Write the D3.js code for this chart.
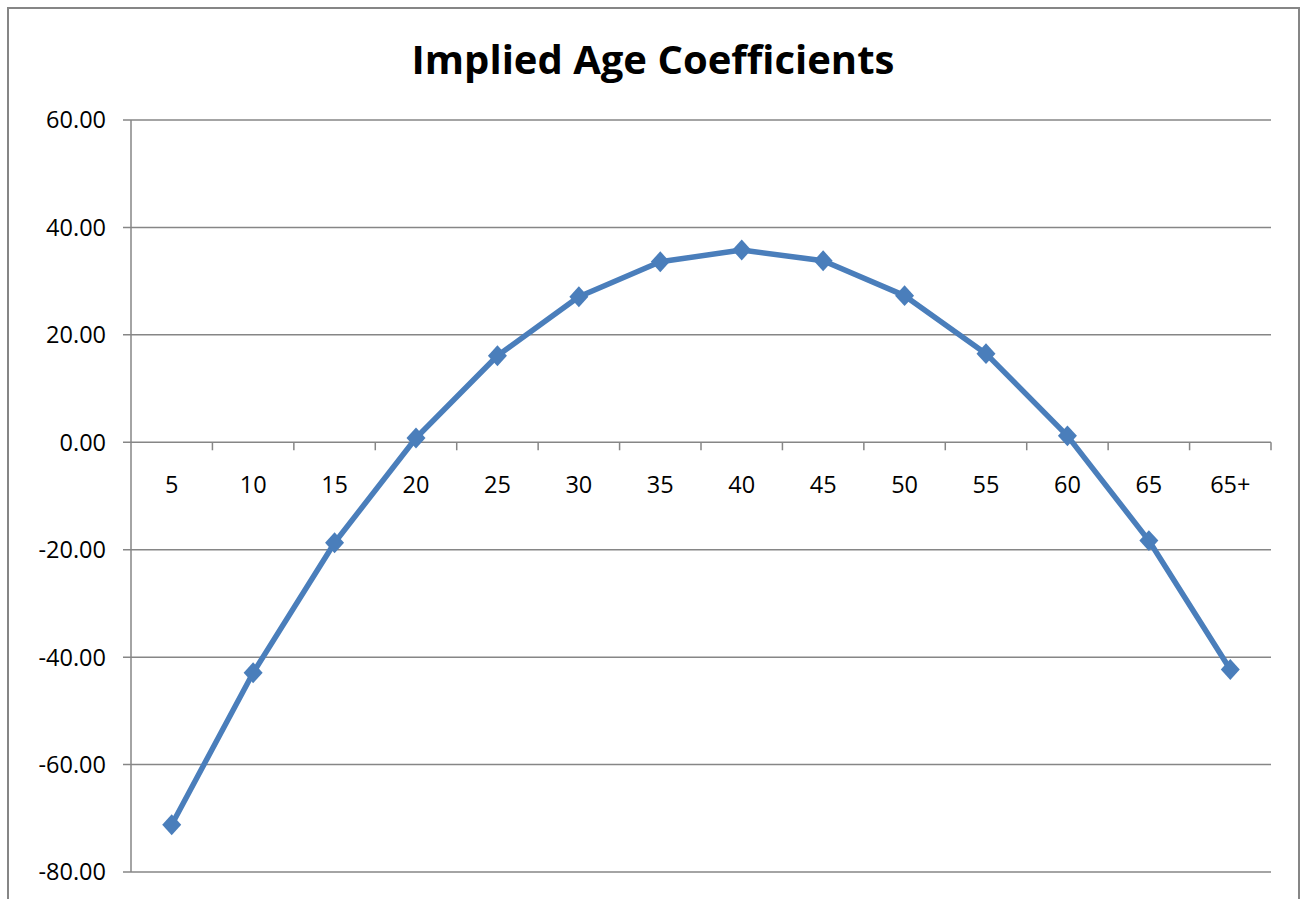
<!DOCTYPE html>
<html><head><meta charset="utf-8">
<script src="https://cdn.jsdelivr.net/npm/d3@7"></script>
<style>
html,body{margin:0;padding:0;background:#fff;}
svg{display:block;}
</style></head>
<body>
<script>
const title = "Implied Age Coefficients";
const categories = ["5","10","15","20","25","30","35","40","45","50","55","60","65","65+"];
const values = [-71.2,-42.9,-18.7,0.8,16.1,27.1,33.6,35.8,33.8,27.3,16.5,1.2,-18.3,-42.3];
const yTicks = [60,40,20,0,-20,-40,-60,-80];

const W = 1302, H = 899;
const margin = {left:131, right:31, top:120, bottom:27};
const svg = d3.select("body").append("svg").attr("width",W).attr("height",H);
const font = "'Open Sans', sans-serif";

// outer border
svg.append("rect").attr("x",8).attr("y",8).attr("width",1291).attr("height",H+20)
  .attr("fill","none").attr("stroke","#868686").attr("stroke-width",2);

const x = d3.scaleBand().domain(categories).range([margin.left, W-margin.right]).padding(0);
const y = d3.scaleLinear().domain([-80,60]).range([H-margin.bottom, margin.top]);

// gridlines
svg.append("g").selectAll("line").data(yTicks).join("line")
  .attr("x1",margin.left-8).attr("x2",W-margin.right)
  .attr("y1",d=>y(d)).attr("y2",d=>y(d))
  .attr("stroke","#868686").attr("stroke-width",1.5);

// y axis line
svg.append("line").attr("x1",margin.left).attr("x2",margin.left)
  .attr("y1",y(60)).attr("y2",y(-80)).attr("stroke","#868686").attr("stroke-width",1.5);

// y labels
svg.append("g").selectAll("text").data(yTicks).join("text")
  .attr("x",margin.left-25).attr("y",d=>y(d)).attr("dy","0.36em")
  .attr("text-anchor","end").attr("font-family",font).attr("font-size",23.5)
  .attr("fill","#000").text(d=>d.toFixed(2));

// x axis at 0 with ticks at boundaries
const y0 = y(0);
const bounds = categories.map(c=>x(c)+x.bandwidth());
svg.append("g").selectAll("line").data(bounds).join("line")
  .attr("x1",d=>d).attr("x2",d=>d).attr("y1",y0).attr("y2",y0+8)
  .attr("stroke","#868686").attr("stroke-width",1.5);
svg.append("g").selectAll("text").data(categories).join("text")
  .attr("x",d=>x(d)+x.bandwidth()/2).attr("y",y0+51)
  .attr("text-anchor","middle").attr("font-family",font).attr("font-size",23.5)
  .attr("fill","#000").text(d=>d);

// line
const line = d3.line().x((d,i)=>x(categories[i])+x.bandwidth()/2).y(d=>y(d));
svg.append("path").datum(values).attr("d",line).attr("fill","none")
  .attr("stroke","#4a7ebb").attr("stroke-width",5.5).attr("stroke-linejoin","round");

// markers
const sym = d3.symbol().type(d3.symbolDiamond2).size(230);
svg.append("g").selectAll("path").data(values).join("path")
  .attr("d", sym)
  .attr("transform",(d,i)=>`translate(${x(categories[i])+x.bandwidth()/2},${y(d)}) scale(1,1.1)`)
  .attr("fill","#4a7ebb");

// title
svg.append("text").attr("x",653).attr("y",74).attr("text-anchor","middle")
  .attr("font-family",font).attr("font-weight","bold").attr("font-size",40)
  .attr("fill","#000").text(title);
</script>
</body></html>
